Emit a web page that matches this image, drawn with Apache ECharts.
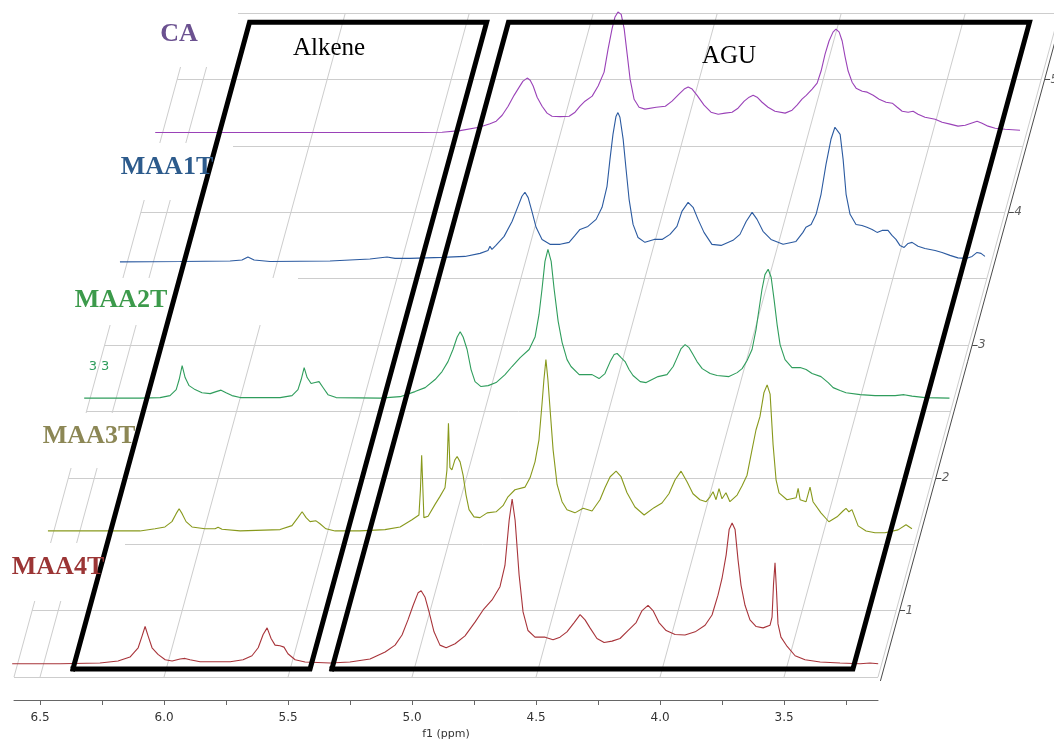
<!DOCTYPE html>
<html>
<head>
<meta charset="utf-8">
<title>Stacked 1H NMR spectra</title>
<script src="https://cdn.jsdelivr.net/npm/echarts@6/dist/echarts.min.js"></script>
<style>
  html, body { margin: 0; padding: 0; background: #ffffff; }
  #chart { width: 1054px; height: 740px; }
</style>
</head>
<body>
<div id="chart"></div>
<script>
// ---- Spectra: [chemical shift (ppm), intensity (a.u., 100 = one stacking step)] ----
const specMAA4T = [
  [6.627,0],[6.434,0],[6.273,0.5],[6.200,2],[6.152,5],[6.119,12],[6.103,21],[6.091,28],[6.079,21],[6.063,12],[6.039,7],[6.010,3],[5.982,2],[5.950,3.5],[5.930,4],[5.910,3],[5.869,1.5],[5.748,1.5],[5.696,3],[5.660,6],[5.635,12],[5.615,22],[5.599,27],[5.583,19],[5.567,14],[5.547,13.5],[5.531,12.5],[5.515,7.5],[5.486,3],[5.446,1.3],[5.345,0.5],[5.265,1.3],[5.184,3.5],[5.123,8.8],[5.083,14],[5.055,21.6],[5.031,33],[5.010,44],[4.990,53.5],[4.978,55],[4.962,50],[4.946,39],[4.926,24],[4.902,14],[4.877,12],[4.841,15],[4.801,21],[4.760,31.5],[4.728,40.5],[4.692,48],[4.660,58],[4.640,74],[4.623,108],[4.611,124],[4.599,108],[4.583,67],[4.567,39],[4.547,25],[4.519,20],[4.478,20],[4.446,18],[4.418,20],[4.390,24],[4.361,31],[4.337,37],[4.317,33],[4.297,27],[4.269,19],[4.240,16],[4.208,17],[4.176,19],[4.144,25],[4.111,31],[4.087,40],[4.063,44],[4.043,40],[4.019,31],[3.990,25],[3.954,22],[3.914,21.6],[3.873,24],[3.833,29],[3.805,36.7],[3.781,51.6],[3.765,64],[3.748,82],[3.736,101],[3.724,106],[3.712,101],[3.700,78],[3.688,59],[3.672,44],[3.652,33],[3.627,28],[3.599,27],[3.571,29],[3.563,35],[3.557,60],[3.551,76],[3.545,55],[3.539,30],[3.527,20],[3.502,13],[3.470,6],[3.430,3],[3.369,1.3],[3.289,0.5],[3.208,0],[3.168,0.5],[3.135,0]
];
const specMAA3T = [
  [6.629,0],[6.419,0],[6.258,0],[6.197,1.6],[6.157,3],[6.129,7],[6.112,13],[6.100,16.7],[6.088,13],[6.072,7],[6.048,3],[5.996,1.6],[5.955,1.6],[5.943,2.7],[5.927,1.2],[5.854,0],[5.693,1],[5.645,4],[5.621,10],[5.604,14.4],[5.588,10],[5.572,7],[5.548,7.6],[5.532,5.4],[5.508,1.6],[5.471,0],[5.371,0],[5.270,1],[5.209,3],[5.161,8.4],[5.133,12],[5.127,31],[5.122,57],[5.117,31],[5.113,10],[5.096,11],[5.068,20],[5.048,26],[5.028,32.5],[5.020,46],[5.014,81],[5.008,47.6],[5.000,46],[4.988,53.5],[4.979,56],[4.967,52],[4.955,42],[4.943,27],[4.931,16],[4.911,10.6],[4.887,10],[4.858,13.6],[4.822,14.4],[4.794,19],[4.774,25.7],[4.746,31],[4.705,33],[4.685,40],[4.665,52],[4.649,68.6],[4.637,95],[4.629,114],[4.621,129],[4.613,114],[4.604,91],[4.592,61],[4.576,35],[4.556,22],[4.536,16],[4.504,13.6],[4.471,17],[4.435,15],[4.403,23.5],[4.383,32.5],[4.362,40.8],[4.338,45],[4.318,40.8],[4.294,28.7],[4.262,18],[4.225,12],[4.185,17.5],[4.153,21],[4.125,28],[4.100,38.5],[4.076,45],[4.052,37],[4.028,28],[4.000,23.5],[3.975,22],[3.959,25.7],[3.947,29.5],[3.935,23.5],[3.923,31.8],[3.911,24.2],[3.895,28.7],[3.879,22],[3.850,27],[3.830,34],[3.810,42],[3.790,61],[3.774,76],[3.758,86],[3.742,104],[3.729,110],[3.717,103],[3.705,65],[3.693,38.5],[3.681,28.7],[3.649,23.5],[3.612,25],[3.604,32],[3.596,23.5],[3.572,22],[3.556,33],[3.544,22],[3.512,13.6],[3.480,6.9],[3.447,10.6],[3.423,15],[3.411,17],[3.399,14.4],[3.387,16],[3.362,3.8],[3.330,0],[3.294,-1.4],[3.254,-1.4],[3.201,0.8],[3.169,4.6],[3.145,1.6]
];
const specMAA2T = [
  [6.629,0],[6.404,0],[6.323,0.4],[6.283,1.9],[6.258,6.4],[6.246,14],[6.234,24.5],[6.222,15.5],[6.206,9.4],[6.182,6.4],[6.154,4.1],[6.121,3.4],[6.097,4.9],[6.077,6],[6.057,4.1],[6.033,1.9],[6.000,0.4],[5.839,0.4],[5.791,1.9],[5.767,6.4],[5.754,14],[5.742,23],[5.730,15.5],[5.714,11],[5.698,11.7],[5.682,12.4],[5.666,8],[5.646,2.6],[5.613,0.4],[5.436,0],[5.355,1.1],[5.295,4.9],[5.254,7.9],[5.214,14],[5.186,20],[5.162,27.5],[5.142,36.6],[5.125,46],[5.113,50],[5.101,46],[5.085,36.6],[5.069,21.5],[5.053,12.4],[5.029,8.7],[5.000,9.4],[4.968,11.7],[4.932,17.7],[4.904,23.8],[4.871,30.5],[4.835,36.6],[4.811,46],[4.795,63],[4.783,82],[4.771,103],[4.759,112],[4.746,103],[4.734,82],[4.718,58],[4.702,42],[4.682,29],[4.666,23.8],[4.633,17.7],[4.605,17.7],[4.581,17.7],[4.553,14.7],[4.529,18.5],[4.508,27.5],[4.492,32.8],[4.480,33.6],[4.464,30.5],[4.448,27.5],[4.432,21.5],[4.416,17],[4.387,12.4],[4.363,11.7],[4.339,14],[4.315,16.2],[4.279,17.7],[4.254,23.8],[4.238,30.5],[4.222,37.3],[4.206,40.3],[4.190,38],[4.174,32.8],[4.158,27.5],[4.137,22.2],[4.105,18.5],[4.077,17],[4.029,16.2],[3.996,19.2],[3.976,22.2],[3.956,28.3],[3.936,36.6],[3.920,51.6],[3.908,66.7],[3.896,81.8],[3.884,93],[3.871,97],[3.859,91],[3.847,74],[3.835,55.4],[3.823,40.3],[3.803,29],[3.775,23],[3.742,23],[3.718,21.5],[3.694,18.5],[3.658,16.2],[3.629,11.7],[3.609,7.9],[3.581,5.7],[3.557,4.1],[3.500,2.6],[3.440,1.9],[3.359,1.9],[3.323,2.6],[3.291,1.5],[3.238,0.4],[3.140,0]
];
const specMAA1T = [
  [6.631,2.6],[6.389,2.9],[6.187,3.3],[6.139,4],[6.115,6.3],[6.090,4],[6.026,2.9],[5.784,3.3],[5.623,4.8],[5.554,6.3],[5.522,5.2],[5.461,5.2],[5.332,6],[5.240,6.7],[5.179,9],[5.147,11.2],[5.139,14.3],[5.131,12],[5.115,15],[5.082,21.8],[5.050,33],[5.026,44.4],[5.010,52],[4.998,55],[4.985,51],[4.969,40],[4.953,28.6],[4.929,19.5],[4.897,15.8],[4.856,15.8],[4.820,17.3],[4.796,22.5],[4.776,27],[4.744,29.3],[4.711,34.6],[4.687,43.7],[4.667,59.5],[4.655,80],[4.643,98.6],[4.631,112],[4.623,115],[4.615,111.5],[4.602,95],[4.590,72],[4.578,49.7],[4.562,30.8],[4.542,21],[4.514,17.3],[4.477,19.5],[4.445,19.5],[4.413,23.3],[4.385,29.3],[4.365,40.6],[4.340,47.4],[4.320,43.7],[4.300,34.6],[4.276,24.8],[4.244,15.8],[4.207,15],[4.159,18.8],[4.131,23.3],[4.106,33],[4.082,39.9],[4.062,34.6],[4.038,25.6],[4.006,19.5],[3.957,15.8],[3.905,18],[3.877,24.8],[3.865,28.6],[3.844,30.8],[3.824,38.4],[3.804,53.5],[3.784,76],[3.764,94.9],[3.748,104],[3.740,104.7],[3.727,98.6],[3.715,79.8],[3.703,53.5],[3.687,38.4],[3.663,30.8],[3.639,30],[3.619,28.6],[3.598,27],[3.578,24.8],[3.558,26.3],[3.534,26.3],[3.518,22.5],[3.502,19.5],[3.486,15],[3.469,13.5],[3.453,16.5],[3.437,17.3],[3.413,14.3],[3.385,12.7],[3.344,11.2],[3.316,9.7],[3.284,7.5],[3.252,5.6],[3.219,5.2],[3.195,6.7],[3.175,9.7],[3.159,9],[3.143,6.7]
];
const specCA = [
  [6.635,0],[6.252,0],[5.849,0],[5.567,0],[5.478,0.2],[5.406,1.4],[5.329,4],[5.285,6.6],[5.260,8.5],[5.236,13],[5.212,19.8],[5.188,28],[5.168,34],[5.152,38.7],[5.135,41],[5.123,39.4],[5.111,35],[5.095,26.6],[5.075,19.8],[5.055,14.6],[5.035,12.3],[5.002,12],[4.966,12.3],[4.942,15.3],[4.922,19.8],[4.902,23.6],[4.873,27.4],[4.849,35],[4.825,45.5],[4.809,62.8],[4.793,78],[4.781,87],[4.769,90.7],[4.756,89],[4.744,78],[4.732,59],[4.720,40],[4.704,25],[4.684,19],[4.660,17.6],[4.615,19],[4.578,19.8],[4.551,23.6],[4.523,28.9],[4.502,32.7],[4.486,34.2],[4.470,32.7],[4.450,28],[4.422,20.6],[4.394,15.3],[4.365,13.8],[4.337,14.6],[4.309,15.3],[4.285,18.3],[4.260,23.6],[4.240,26.6],[4.224,28],[4.208,26.6],[4.188,22.8],[4.164,19],[4.136,16],[4.095,14.6],[4.067,16.8],[4.047,20.6],[4.027,25.1],[4.010,28],[3.986,32.7],[3.966,37.2],[3.950,46.3],[3.934,59],[3.918,68.9],[3.902,75.6],[3.890,77.9],[3.877,75.6],[3.865,68.9],[3.853,56.8],[3.841,46.3],[3.825,37.9],[3.809,33.4],[3.784,31.1],[3.764,30.4],[3.740,28],[3.716,25.1],[3.688,22.8],[3.663,22.1],[3.643,19],[3.623,16],[3.599,15.3],[3.579,16],[3.559,13.8],[3.531,11.5],[3.490,10],[3.462,7.8],[3.430,6.3],[3.398,4.8],[3.369,5.5],[3.345,7],[3.321,8.5],[3.301,7],[3.277,4.8],[3.248,3.2],[3.208,2.5],[3.148,1.7]
];

// ---- Stack order, sample names and stacking depth ----
const sampleNames  = ['MAA4T', 'MAA3T', 'MAA2T', 'MAA1T', 'CA'];
const sampleDepths = [0.6, 1.6, 2.6, 3.6, 4.6];

// ---- Axes ----
const ppmRange     = [3.121, 6.605];
const depthRange   = [0.5, 5.5];
const ppmLabels    = [6.5, 6.0, 5.5, 5.0, 4.5, 4.0, 3.5];
const ppmTicks     = [6.5, 6.25, 6.0, 5.75, 5.5, 5.25, 5.0, 4.75, 4.5, 4.25, 4.0, 3.75, 3.5, 3.25];
const depthGrid    = [0.5, 1, 1.5, 2, 2.5, 3, 3.5, 4, 4.5, 5, 5.5];
const depthLabels  = [1, 2, 3, 4, 5];

// ---- Highlighted regions (ppm limits) ----
const regionNames = ['Alkene', 'AGU'];
const regionFrom  = [6.376, 5.332];
const regionTo    = [5.420, 3.231];
const regionDepth = [0.56, 5.43];

// ---- Styling / layout ----
const lineColors  = ['#a8343a', '#88991c', '#2f9d5c', '#2b5aa0', '#9a42b8'];
const labelColors = ['#9b3535', '#8c8755', '#3c9a4b', '#2d5b8c', '#6b5190'];
const SKEW = 0.1462;      // ppm offset per unit of stacking depth (oblique projection)
const AXIS_GAP = 0.014;   // depth axis sits just beyond the floor edge
const TICK_LEN = 0.022;
const FRONT_X = 14, FRONT_Y = 677, PX_PER_PPM = 248, PX_PER_DEPTH = 132.8;
const planePpm = [2.30, 6.64];     // extent of the projected plane (wider than the ppm axis)
const planeDepth = [0.3, 5.6];

// Oblique projection of (shift, depth, intensity) onto the plane
function proj(ppm, depth, h) {
  return [ppm - SKEW * (depth - depthRange[0]), depth + (h || 0) / 100];
}

const spectraData = [specMAA4T, specMAA3T, specMAA2T, specMAA1T, specCA];

// Floor grid: constant-depth lines and constant-shift lines
const floorLines = [];
depthGrid.forEach(d => floorLines.push({ coords: [proj(ppmRange[1], d), proj(ppmRange[0], d)] }));
[ppmRange[1]].concat(ppmLabels, [ppmRange[0]]).forEach(p =>
  floorLines.push({ coords: [proj(p, depthRange[0]), proj(p, depthRange[1])] }));

// Depth axis line and ticks
const depthAxisPpm = ppmRange[0] - AXIS_GAP;
const depthAxisLine = [{ coords: [proj(depthAxisPpm, 0.47), proj(depthAxisPpm, depthRange[1])] }];
const depthAxisTicks = depthLabels.map(d => ({ coords: [proj(depthAxisPpm, d), proj(depthAxisPpm - TICK_LEN, d)] }));

// Region outlines
const regionOutlines = regionNames.map((n, i) => {
  const a = regionFrom[i], b = regionTo[i], lo = regionDepth[0], hi = regionDepth[1];
  return { coords: [proj(a, lo), proj(b, lo), proj(b, hi), proj(a, hi), proj(a, lo)] };
});

const series = [
  {
    type: 'lines', coordinateSystem: 'cartesian2d', xAxisIndex: 0, yAxisIndex: 0,
    silent: true, clip: false, z: 1,
    lineStyle: { color: '#cdcdcd', width: 1, opacity: 1 },
    data: floorLines
  },
  {
    type: 'lines', coordinateSystem: 'cartesian2d', xAxisIndex: 0, yAxisIndex: 0,
    silent: true, clip: false, z: 4,
    lineStyle: { color: '#4a4a4a', width: 1, opacity: 1 },
    data: depthAxisLine.concat(depthAxisTicks)
  },
  {
    type: 'scatter', xAxisIndex: 0, yAxisIndex: 0, silent: true, clip: false, z: 4, symbolSize: 0,
    data: depthLabels.map(d => proj(depthAxisPpm - TICK_LEN - 0.002, d).concat([d])),
    label: {
      show: true, position: 'right', distance: 0,
      formatter: p => String(p.value[2]),
      color: '#333', fontSize: 12, fontStyle: 'italic', fontFamily: 'DejaVu Sans'
    }
  }
];

spectraData.forEach((spec, i) => {
  series.push({
    name: sampleNames[i], type: 'line', xAxisIndex: 0, yAxisIndex: 0,
    silent: true, clip: false, z: 5,
    showSymbol: false, symbol: 'none',
    lineStyle: { color: lineColors[i], width: 1.1 },
    data: spec.map(([p, h]) => proj(p, sampleDepths[i], h))
  });
});

series.push({
  type: 'lines', coordinateSystem: 'cartesian2d', xAxisIndex: 0, yAxisIndex: 0,
  polyline: true, silent: true, clip: false, z: 10,
  lineStyle: { color: '#000', width: 5, opacity: 1, join: 'miter', cap: 'square' },
  data: regionOutlines
});

// Sample names: white plates behind them hide the floor grid
const plates = [
  { x: 0, y: 0,   w: 238, h: 67 },
  { x: 0, y: 143, w: 233, h: 57 },
  { x: 0, y: 278, w: 298, h: 47 },
  { x: 0, y: 413, w: 150, h: 55 },
  { x: 0, y: 543, w: 125, h: 58 }
];
const nameAnchors = [[58, 567], [89, 436], [121, 300], [167, 167], [179, 34]];

const graphics = [];
plates.forEach(r => graphics.push({
  type: 'rect', z: 3, silent: true,
  shape: { x: r.x, y: r.y, width: r.w, height: r.h },
  style: { fill: '#ffffff' }
}));
sampleNames.forEach((n, i) => graphics.push({
  type: 'text', z: 12, silent: true, x: nameAnchors[i][0], y: nameAnchors[i][1],
  style: {
    text: n, fill: labelColors[i], font: 'bold 26px "Liberation Serif"',
    align: 'center', verticalAlign: 'middle', textAlign: 'center', textVerticalAlign: 'middle'
  }
}));
graphics.push({
  type: 'text', z: 12, silent: true, x: 99, y: 367,
  style: { text: '3 3', fill: '#2f9d5c', font: '13px "DejaVu Sans"', align: 'center', verticalAlign: 'middle', textAlign: 'center', textVerticalAlign: 'middle' }
});
[[329, 48], [729, 56]].forEach((pos, i) => graphics.push({
  type: 'text', z: 12, silent: true, x: pos[0], y: pos[1],
  style: { text: regionNames[i], fill: '#000', font: '25px "Liberation Serif"', align: 'center', verticalAlign: 'middle', textAlign: 'center', textVerticalAlign: 'middle' }
}));

const chart = echarts.init(document.getElementById('chart'), null, { renderer: 'canvas' });
chart.setOption({
  animation: false,
  backgroundColor: '#ffffff',
  grid: [
    { // projected plane holding every mark
      left: FRONT_X - (planePpm[1] - ppmRange[1]) * PX_PER_PPM,
      width: (planePpm[1] - planePpm[0]) * PX_PER_PPM,
      top: FRONT_Y - (planeDepth[1] - depthRange[0]) * PX_PER_DEPTH,
      height: (planeDepth[1] - planeDepth[0]) * PX_PER_DEPTH,
      containLabel: false, outerBoundsMode: 'none'
    },
    { // front edge carrying the ppm scale
      left: FRONT_X, width: (ppmRange[1] - ppmRange[0]) * PX_PER_PPM,
      top: FRONT_Y - (depthRange[1] - depthRange[0]) * PX_PER_DEPTH,
      height: (depthRange[1] - depthRange[0]) * PX_PER_DEPTH,
      containLabel: false, outerBoundsMode: 'none'
    }
  ],
  xAxis: [
    { gridIndex: 0, type: 'value', inverse: true, min: planePpm[0], max: planePpm[1], show: false },
    {
      gridIndex: 1, type: 'value', inverse: true, min: ppmRange[0], max: ppmRange[1], position: 'bottom', offset: 23,
      axisLine: { show: true, lineStyle: { color: '#666', width: 1 } },
      axisTick: { show: true, customValues: ppmTicks, length: 5, lineStyle: { color: '#666' } },
      axisLabel: {
        show: true, customValues: ppmLabels, formatter: v => Number(v).toFixed(1),
        color: '#333', fontSize: 12, fontFamily: 'DejaVu Sans', margin: 12
      },
      splitLine: { show: false },
      name: 'f1 (ppm)', nameLocation: 'middle', nameGap: 29,
      nameTextStyle: { color: '#333', fontSize: 11, fontFamily: 'DejaVu Sans' }
    }
  ],
  yAxis: [
    { gridIndex: 0, type: 'value', min: planeDepth[0], max: planeDepth[1], show: false },
    { gridIndex: 1, type: 'value', min: depthRange[0], max: depthRange[1], show: false }
  ],
  graphic: { elements: graphics },
  series: series
});
</script>
</body>
</html>
